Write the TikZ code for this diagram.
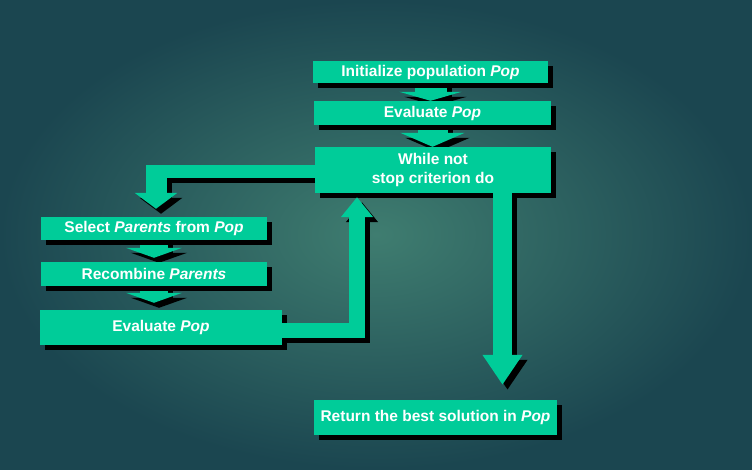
\documentclass[tikz,border=0pt]{standalone}
\usepackage{fontspec}
\setmainfont{Liberation Sans}
\usetikzlibrary{arrows.meta,calc}

\definecolor{boxgreen}{HTML}{00CC99}
\definecolor{bglight}{HTML}{3F7D70}
\definecolor{bgdark}{HTML}{1B4650}

\pgfdeclarelayer{bg}
\pgfdeclarelayer{shadows}
\pgfdeclarelayer{arrows}
\pgfsetlayers{bg,shadows,arrows,main}

% block arrow: black copy under it, shifted right and down
\newcommand\flowarrow[3][arrows]{%
  \begin{pgfonlayer}{shadows}
    \draw[#2, draw=black, transform canvas={shift={(5pt,-5pt)}}] #3;
  \end{pgfonlayer}
  \begin{pgfonlayer}{#1}
    \draw[#2] #3;
  \end{pgfonlayer}}

\begin{document}
\begin{tikzpicture}[x=1pt,y=-1pt,
    box/.style={fill=boxgreen, text=white, inner sep=0pt, align=center,
      font=\bfseries\fontsize{15.5}{19.5}\selectfont},
    band/.style={draw=boxgreen, line width=#1},
    arrowhead/.style 2 args={-{Triangle[length=#1 0 0, width=#2 0 0]}}]

  \useasboundingbox (0,0) rectangle (752,469);
  \begin{pgfonlayer}{bg}
    \shade[inner color=bglight, outer color=bgdark] (0,0) rectangle (752,469);
  \end{pgfonlayer}

  \node[box, minimum width=235pt, minimum height=22pt] (init) at (430.5,72) {Initialize population \textit{Pop}};
  \node[box, minimum width=237pt, minimum height=24pt] (evalA) at (432.5,113) {Evaluate \textit{Pop}};
  \node[box, minimum width=236pt, minimum height=46pt] (while) at (433,170) {While not\\stop criterion do};
  \node[box, minimum width=226pt, minimum height=23pt] (select) at (154,228.5) {Select \textit{Parents} from \textit{Pop}};
  \node[box, minimum width=226pt, minimum height=24pt] (recomb) at (154,274) {Recombine \textit{Parents}};
  \node[box, minimum width=242pt, minimum height=35pt] (evalB) at (161,327.5) {Evaluate \textit{Pop}};
  \node[box, minimum width=243pt, minimum height=35pt] (ret) at (435.5,417.5) {Return the best solution in \textit{Pop}};

  % short arrows between stacked boxes, under the box shadows
  \flowarrow[shadows]{band=32pt, arrowhead={9pt}{62pt}}{(init.south) -- (init.south |- evalA.north)}
  \flowarrow[shadows]{band=30pt, arrowhead={14pt}{64pt}}{(evalA.south) -- (evalA.south |- while.north)}
  \flowarrow[shadows]{band=28pt, arrowhead={10pt}{56pt}}{(select.south) -- ($(recomb.north)+(0,-4)$)}
  \flowarrow[shadows]{band=28pt, arrowhead={10pt}{56pt}}{(recomb.south) -- ($(recomb.south |- evalB.north)+(0,-7)$)}

  \begin{pgfonlayer}{shadows}
    \foreach \n in {init,evalA,while,select,recomb,evalB,ret}
      \fill[black] ([xshift=5pt,yshift=-5pt]\n.south west) rectangle ([xshift=5pt,yshift=-5pt]\n.north east);
  \end{pgfonlayer}

  \coordinate (lbend) at (145.5,171.5);
  \coordinate (ldown) at (156,165);
  \coordinate (rbend) at (365,330.5);
  \coordinate (rup) at (357,338);
  \coordinate (dtop) at (502.5,193);

  \flowarrow{band=13pt}{(while.west |- lbend) -- (lbend)}
  \flowarrow{band=21pt, arrowhead={16pt}{42pt}}{(ldown) -- ($(ldown |- select.north)+(0,-8)$)}
  \flowarrow{band=15pt}{(evalB.east |- rbend) -- (rbend)}
  \flowarrow{band=16pt, arrowhead={20pt}{31pt}}{(rup) -- ($(rup |- while.south)+(0,4)$)}
  \flowarrow{band=19pt, arrowhead={30pt}{38pt}}{(dtop) -- ($(dtop |- ret.north)+(0,-15)$)}
\end{tikzpicture}
\end{document}
